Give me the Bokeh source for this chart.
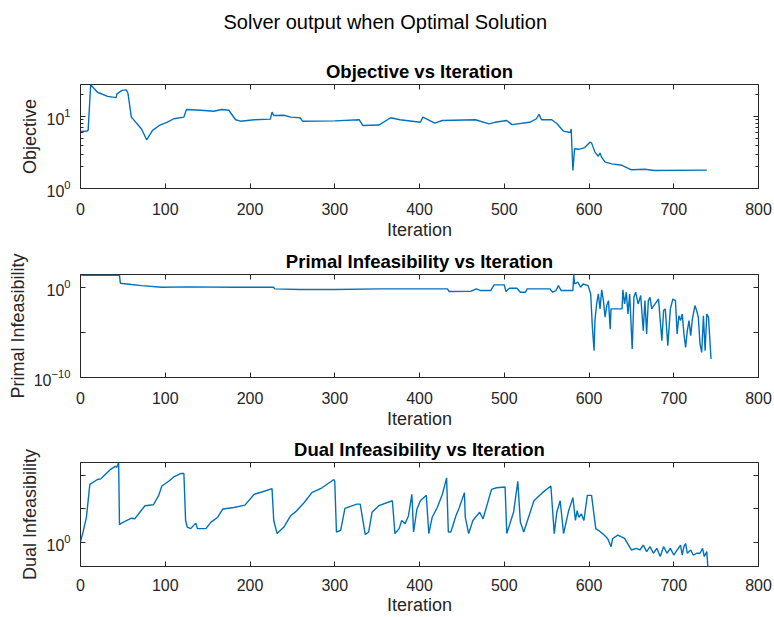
from bokeh.plotting import figure
from bokeh.models import (Range1d, FixedTicker, LinearAxis, LogAxis, Title,
                          CustomJSTickFormatter, ColumnDataSource)
from bokeh.layouts import column
from bokeh.embed import file_html
from bokeh.resources import INLINE

# ---------------- data ----------------
x_ticks = [0, 100, 200, 300, 400, 500, 600, 700, 800]

obj_iter = [0, 8, 9, 12, 20, 32, 42, 43, 49, 54, 56, 60, 72, 78, 85, 93, 102, 110, 122, 125,
            142, 157, 167, 175, 183, 189, 205, 224, 226, 228, 240, 248, 259, 262, 300, 329,
            333, 352, 366, 377, 401, 404, 418, 427, 466, 482, 489, 503, 509, 530, 538, 541,
            544, 556, 562, 570, 578, 579, 581, 583, 588, 595, 601, 603, 607, 611, 613, 615,
            619, 627, 639, 650, 666, 677, 739]
obj_val = [6.2, 6.3, 6.4, 27.5, 21.7, 19.0, 18.3, 20.6, 23.0, 23.4, 21.0, 9.8, 6.7, 4.75, 6.4,
           7.5, 8.3, 9.3, 9.8, 12.5, 12.2, 11.8, 12.5, 12.2, 9.0, 8.6, 9.0, 9.2, 11.5, 10.3,
           10.4, 9.8, 9.6, 8.6, 8.7, 9.0, 7.5, 7.6, 9.6, 9.0, 8.3, 9.8, 8.1, 8.8, 9.0, 7.9,
           8.3, 8.8, 7.7, 8.3, 9.3, 10.7, 9.0, 9.0, 8.0, 6.25, 6.0, 6.7, 1.78, 3.56, 3.5, 3.7,
           4.4, 4.3, 3.2, 2.8, 3.1, 2.7, 2.32, 2.2, 2.1, 1.82, 1.85, 1.78, 1.8]

pri_iter = [0, 2, 46, 47, 60, 72, 96, 127, 181, 228, 229, 259, 300, 354, 433, 435, 461, 467,
            472, 484, 488, 500, 502, 506, 515, 519, 525, 527, 554, 557, 561, 564, 567, 581,
            582, 583, 587, 590, 593, 599, 602, 604, 606, 607, 609, 611, 613, 615, 617, 619,
            621, 623, 625, 626, 639, 640, 642, 644, 646, 648, 651, 653, 655, 658, 661, 664,
            666, 668, 670, 672, 674, 678, 682, 686, 688, 690, 693, 696, 699, 702, 704, 706,
            708, 710, 712, 714, 716, 718, 720, 722, 725, 727, 729, 731, 733, 735, 737, 739,
            741, 744]
pri_val = [25, 21, 21, 2.8, 2.0, 1.5, 1.0, 1.1, 1.0, 1.0, 0.66, 0.55, 0.55, 0.66, 0.66, 0.33,
           0.36, 0.66, 0.43, 0.43, 1.8, 1.8, 0.33, 0.78, 0.78, 0.28, 0.28, 0.66, 0.66, 0.28,
           0.43, 1.5, 0.43, 0.43, 25, 2.3, 3.6, 1.0, 2.3, 1.5, 0.18, 3.6e-5, 9.3e-8, 2e-4,
           0.014, 0.18, 4e-3, 0.51, 0.033, 4.7e-4, 9.3e-3, 0.033, 2.3e-5, 4e-3, 4e-3, 0.51,
           0.014, 0.28, 1.1e-3, 0.18, 1.4e-7, 0.078, 0.28, 0.014, 0.12, 1.5e-5, 0.033, 6.6e-6,
           0.033, 0.078, 4e-3, 0.014, 0.05, 1.2e-6, 2.6e-3, 4e-3, 3.3e-7, 4e-3, 0.05, 0.033,
           6.6e-6, 7e-4, 2e-4, 1.1e-3, 6.6e-6, 2.2e-7, 1.5e-5, 2e-4, 4.3e-6, 3e-4, 9.3e-3,
           2.6e-3, 4.7e-4, 5e-7, 6e-8, 7e-4, 9.3e-8, 1.1e-3, 4.7e-4, 1.1e-8]

dual_iter = [0, 3, 7, 11, 20, 24, 28, 35, 41, 43, 45, 46, 49, 60, 64, 70, 76, 86, 92, 96, 104,
             110, 118, 122, 124, 126, 130, 136, 138, 148, 154, 162, 168, 181, 194, 205, 214,
             226, 228, 232, 240, 248, 254, 264, 273, 285, 299, 300, 302, 307, 312, 326, 330,
             336, 340, 344, 352, 368, 371, 376, 379, 383, 387, 391, 393, 397, 401, 408, 411,
             415, 421, 427, 432, 434, 437, 443, 447, 453, 454, 458, 463, 471, 475, 485, 491,
             501, 503, 511, 516, 519, 523, 535, 545, 555, 559, 562, 566, 570, 576, 581, 584,
             586, 588, 591, 594, 598, 603, 608, 611, 616, 622, 626, 628, 634, 642, 650, 656,
             660, 664, 668, 672, 676, 680, 684, 688, 692, 696, 700, 704, 708, 710, 712, 714,
             716, 720, 723, 727, 731, 734, 736, 739, 741]
dual_val = [1.2, 36, 5.9e3, 4.7e8, 2.6e9, 3.2e9, 1e10, 7.6e10, 2.3e11, 1.9e11, 9e11, 450, 870,
            4.2e3, 3.4e3, 3.2e4, 3.1e5, 4.3e5, 9e6, 2.7e8, 1.4e9, 6.3e9, 2e10, 2e10, 1.9e3,
            200, 115, 770, 115, 115, 1.1e3, 5.9e3, 1e5, 1.7e5, 3.8e5, 1.6e7, 3.5e7, 1.1e8,
            1.9e3, 21, 200, 1e4, 4e4, 9.3e5, 2.8e7, 1.5e8, 2.6e9, 1.4e9, 36, 65, 1.2e5, 5.4e5,
            5.4e5, 15, 36, 3.2e4, 3.1e5, 1.7e6, 21, 115, 1.9e3, 620, 1e4, 1.6e7, 36, 1e5,
            1.7e6, 1.1e7, 21, 5.9e3, 1.7e5, 1.6e7, 4.5e9, 36, 36, 1e4, 1.7e5, 2.8e7, 5.9e3,
            21, 1.9e3, 3.2e4, 3.4e3, 8.7e7, 1.5e8, 1.9e8, 21, 3.2e4, 1.4e9, 1.1e3, 36, 1.7e6,
            2.8e7, 2.7e8, 21, 3.2e4, 1.7e6, 21, 5.6e4, 5e6, 1.9e3, 5.6e4, 5.9e3, 1.8e4, 1.9e3,
            1.1e7, 1.1e7, 115, 65, 21, 3.9, 0.23, 3.9, 12, 3.9, 0.074, 0.13, 0.074, 0.4, 0.042,
            0.23, 0.024, 0.13, 7.7e-3, 0.23, 0.024, 0.13, 0.013, 0.074, 0.4, 0.013, 0.23, 0.7,
            0.024, 0.074, 0.013, 0.024, 0.024, 0.13, 7.7e-3, 0.042, 1e-5]

obj_range = (1, 27.8)
pri_range = (1e-10, 25.7)
dual_range = (2.5e-4, 9e11)

obj_major = [1, 10]
obj_minor = [2, 3, 4, 5, 6, 7, 8, 9, 20]
pri_major = [1e-10, 1]
pri_minor = [1e-5]
dual_major = [1]
dual_minor = [1e5, 1e10]

main_title = "Solver output when Optimal Solution"
titles = ["Objective vs Iteration", "Primal Infeasibility vs Iteration",
          "Dual Infeasibility vs Iteration"]
ylabels = ["Objective", "Primal Infeasibility", "Dual Infeasibility"]
xlabel = "Iteration"

# ---------------- styling ----------------
FONT = "Liberation Sans"
AX = "#262626"
LINE = "#0072BD"
W = 774


def blank():
    return CustomJSTickFormatter(code="return ''")


def make(h, top, bottom, yr, major, minor, minor_len, ylab, ttl, xs, ys,
         tick_sd=14, lab_sd=2):
    p = figure(width=W, height=h, x_range=Range1d(0, 800), y_range=Range1d(*yr),
               y_axis_type="log", output_backend="svg", toolbar_location=None,
               title_location=None, min_border_left=80, min_border_right=16,
               min_border_top=top, min_border_bottom=bottom,
               background_fill_color="white", border_fill_color="white")
    p.grid.visible = False
    p.outline_line_color = AX
    p.outline_line_width = 1
    p.outline_line_alpha = 1

    xa = p.xaxis[0]
    xa.ticker = FixedTicker(ticks=x_ticks, minor_ticks=[])
    ya = p.yaxis[0]
    ya.ticker = FixedTicker(ticks=major, minor_ticks=minor)
    for a in (xa, ya):
        a.axis_line_color = None
        a.major_tick_in = 5
        a.major_tick_out = 0
        a.major_tick_line_color = AX
        a.minor_tick_line_color = AX
        a.minor_tick_in = minor_len
        a.minor_tick_out = 0
        a.major_label_text_font = FONT
        a.major_label_text_font_size = "16px"
        a.major_label_text_color = AX
        a.axis_label_text_font = FONT
        a.axis_label_text_font_size = "18px"
        a.axis_label_text_font_style = "normal"
        a.axis_label_text_color = AX
    xa.axis_label = xlabel
    xa.major_label_standoff = tick_sd
    xa.axis_label_standoff = lab_sd
    ya.axis_label = ylab
    ya.major_label_standoff = 10
    ya.axis_label_standoff = 3

    # mirrored ticks (MATLAB box)
    ta = LinearAxis(ticker=FixedTicker(ticks=x_ticks, minor_ticks=[]), formatter=blank(),
                    major_tick_in=5, major_tick_out=0, minor_tick_in=0, minor_tick_out=0,
                    major_tick_line_color=AX, axis_line_color=None,
                    major_label_text_font_size="1px", major_label_standoff=0)
    p.add_layout(ta, "above")
    ra = LogAxis(ticker=FixedTicker(ticks=major, minor_ticks=minor), formatter=blank(),
                 major_tick_in=5, major_tick_out=0, minor_tick_in=minor_len, minor_tick_out=0,
                 major_tick_line_color=AX, minor_tick_line_color=AX, axis_line_color=None,
                 major_label_text_font_size="1px", major_label_standoff=0)
    p.add_layout(ra, "right")

    p.add_layout(Title(text=ttl, align="center", text_font=FONT, text_font_size="18.5px",
                       text_font_style="bold", text_color="black", standoff=6), "above")

    src = ColumnDataSource(dict(it=xs, v=ys))
    p.line("it", "v", source=src, line_color=LINE, line_width=1.4)
    return p


p1 = make(244, 84, 56, obj_range, obj_major, obj_minor, 3, ylabels[0], titles[0],
          obj_iter, obj_val)
p2 = make(188, 30, 55, pri_range, pri_major, pri_minor, 5, ylabels[1], titles[1],
          pri_iter, pri_val)
p3 = make(185, 30, 51, dual_range, dual_major, dual_minor, 5, ylabels[2], titles[2],
          dual_iter, dual_val, tick_sd=12, lab_sd=1)

# spacer between the subplot title and the figure title, then the figure title
p1.add_layout(Title(text=" ", text_font=FONT, text_font_size="10px", standoff=10), "above")
p1.add_layout(Title(text=main_title, align="left", offset=143, text_font=FONT,
                    text_font_size="20px", text_font_style="normal", text_color="black",
                    standoff=0), "above")

layout = column(p1, p2, p3, spacing=0)
open("out.html", "w").write(file_html(layout, INLINE))
